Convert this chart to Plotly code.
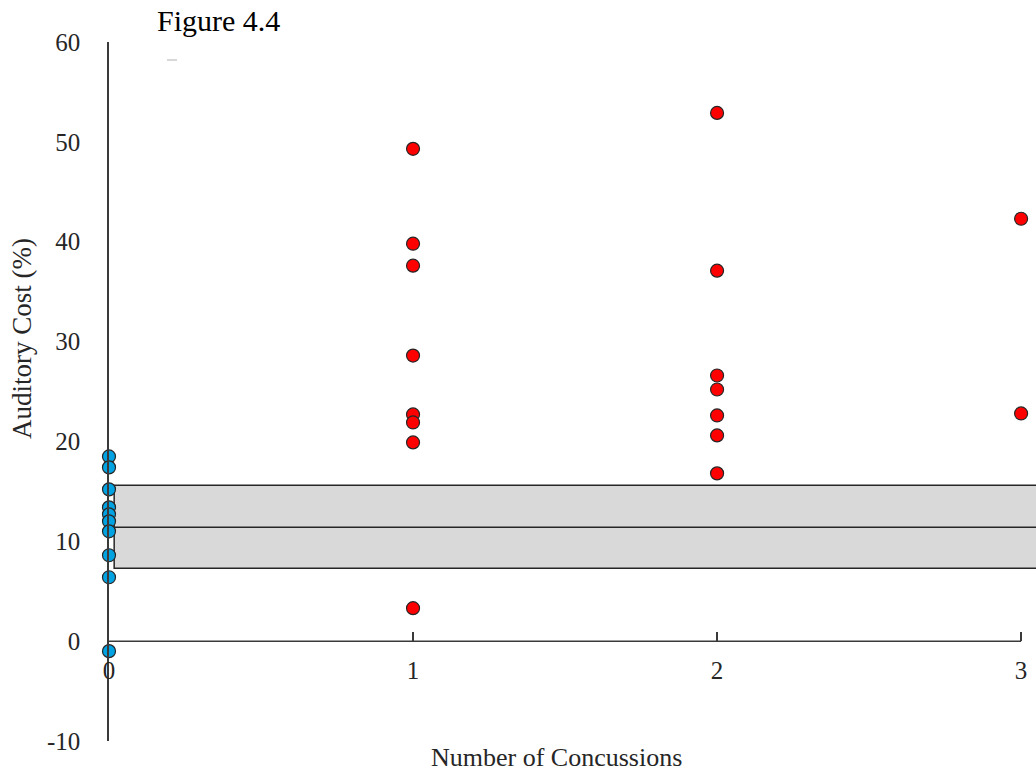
import plotly.graph_objects as go

# Auditory cost by number of concussions
control_x = [0, 0, 0, 0, 0, 0, 0, 0, 0, 0]
control_y = [18.5, 17.4, 15.2, 13.4, 12.7, 12.0, 11.0, 8.6, 6.4, -1.0]

concussed_x = [1, 1, 1, 1, 1, 1, 1, 1,
               2, 2, 2, 2, 2, 2, 2,
               3, 3]
concussed_y = [49.3, 39.8, 37.6, 28.6, 22.7, 21.9, 19.9, 3.3,
               52.9, 37.1, 26.6, 25.2, 22.6, 20.6, 16.8,
               42.3, 22.8]

# Control-group band: lower bound, mean, upper bound
band_low = 7.3
band_mid = 11.4
band_high = 15.6

x_ticks = [0, 1, 2, 3]
x_tick_labels = ["0", "1", "2", "3"]
y_ticks = [-10, 0, 10, 20, 30, 40, 50, 60]
y_tick_labels = ["-10", "0", "10", "20", "30", "40", "50", "60"]

SERIF = "Liberation Serif, Times New Roman, serif"
AXIS_COLOR = "#3a3a3a"
X_RANGE = [0, 3.049]
ZERO_POS = 10 / 70  # paper height of y = 0

fig = go.Figure()

fig.add_trace(go.Scatter(
    x=concussed_x, y=concussed_y, mode="markers",
    marker=dict(size=13, color="#ff0000", line=dict(color="#262626", width=1.2)),
    cliponaxis=False, showlegend=False,
))
fig.add_trace(go.Scatter(
    x=control_x, y=control_y, mode="markers",
    marker=dict(size=13, color="#00a2e2", line=dict(color="#262626", width=1.2)),
    cliponaxis=False, showlegend=False,
))
# invisible trace that activates the overlay axis carrying the tick marks
fig.add_trace(go.Scatter(
    x=[], y=[], xaxis="x2", yaxis="y", mode="markers", showlegend=False,
))

# Shaded band for the control group
fig.add_shape(type="rect", xref="x", yref="y", x0=0.017, x1=3.3,
              y0=band_low, y1=band_high, fillcolor="#d9d9d9",
              line=dict(color="#262626", width=1.5), layer="below")
fig.add_shape(type="line", xref="x", yref="y", x0=0.017, x1=3.3,
              y0=band_mid, y1=band_mid,
              line=dict(color="#262626", width=1.5), layer="below")

# Horizontal axis line at zero, ending at the last category
fig.add_shape(type="line", xref="x", yref="y", x0=0, x1=3, y0=0, y1=0,
              line=dict(color=AXIS_COLOR, width=1.5), layer="below")

# small stray mark under the heading
fig.add_shape(type="line", xref="paper", yref="paper",
              x0=(167 - 109) / 927, x1=(177 - 109) / 927,
              y0=(741 - 60) / 699, y1=(741 - 60) / 699,
              line=dict(color="#b0b0b0", width=1))

fig.update_layout(
    width=1036, height=771,
    margin=dict(l=109, r=0, t=42, b=30),
    paper_bgcolor="white", plot_bgcolor="white",
    font=dict(family=SERIF, color="#262626"),
    # labels of the category axis, pushed below the zero line
    xaxis=dict(
        range=X_RANGE, anchor="free", position=ZERO_POS,
        tickvals=x_ticks, ticktext=x_tick_labels,
        ticks="outside", ticklen=7, tickcolor="rgba(0,0,0,0)",
        showline=False, showgrid=False, zeroline=False,
        tickfont=dict(family=SERIF, size=25, color="#262626"),
    ),
    # upward tick marks on the zero line
    xaxis2=dict(
        range=X_RANGE, anchor="free", position=ZERO_POS, overlaying="x",
        side="bottom", tickvals=x_ticks, showticklabels=False,
        ticks="inside", ticklen=9, tickwidth=1.5, tickcolor=AXIS_COLOR,
        showline=False, showgrid=False, zeroline=False,
    ),
    yaxis=dict(
        range=[-10, 60], tickvals=y_ticks, ticktext=y_tick_labels,
        showline=True, linecolor=AXIS_COLOR, linewidth=1.5,
        ticks="outside", ticklen=22, tickcolor="rgba(0,0,0,0)",
        showgrid=False, zeroline=False,
        tickfont=dict(family=SERIF, size=25, color="#262626"),
    ),
    annotations=[
        dict(text="Figure 4.4", xref="paper", yref="paper",
             x=(155 - 109) / 927, y=(741 - 20) / 699,
             xanchor="left", yanchor="middle", showarrow=False,
             font=dict(family=SERIF, size=30, color="black")),
        dict(text="Auditory Cost (%)", xref="paper", yref="paper",
             x=(22 - 109) / 927, y=(741 - 339) / 699, textangle=-90,
             xanchor="center", yanchor="middle", showarrow=False,
             font=dict(family=SERIF, size=27, color="#262626")),
        dict(text="Number of Concussions", xref="paper", yref="paper",
             x=(556 - 109) / 927, y=(741 - 758) / 699,
             xanchor="center", yanchor="middle", showarrow=False,
             font=dict(family=SERIF, size=26, color="#262626")),
    ],
)

fig.write_html("out.html")
